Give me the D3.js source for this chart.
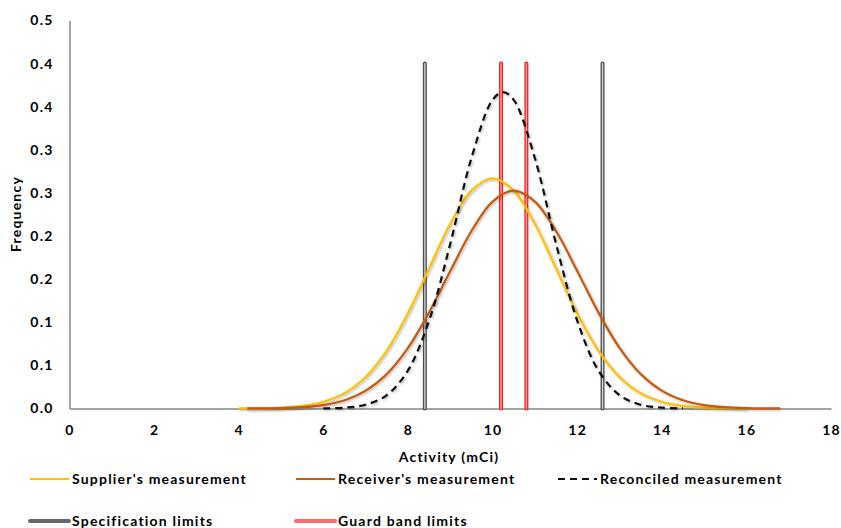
<!DOCTYPE html>
<html>
<head>
<meta charset="utf-8">
<script src="https://cdn.jsdelivr.net/npm/d3@7"></script>
<style>
  body { margin: 0; background: #fff; }
  text { font-family: Lato, "Open Sans", sans-serif; font-weight: bold; fill: #000; letter-spacing: 1.2px; }
</style>
</head>
<body>
<svg id="chart" width="841" height="528"></svg>
<script>
// valeurs
const supplierX = [4, 4.5, 5, 5.5, 6, 6.5, 7, 7.5, 8, 8.5, 9, 9.5, 10, 10.5, 11, 11.5, 12, 12.5, 13, 13.5, 14, 14.5, 15, 15.5, 16];
const supplierY = [0.0001, 0.0003, 0.0011, 0.0030, 0.0079, 0.0178, 0.0366, 0.0672, 0.1105, 0.1626, 0.2142, 0.2527, 0.267,
  0.2527, 0.2142, 0.1626, 0.1105, 0.0672, 0.0366, 0.0178, 0.0079, 0.0030, 0.0011, 0.0003, 0.0001];

const receiverX = [4.2, 4.5, 5, 5.5, 6, 6.5, 7, 7.5, 8, 8.5, 9, 9.5, 10, 10.5, 11, 11.5, 12, 12.5, 13, 13.5, 14, 14.5, 15, 15.5, 16, 16.5, 16.8];
const receiverY = [0.0001, 0.0002, 0.0005, 0.0015, 0.0040, 0.0096, 0.0207, 0.0401, 0.0704, 0.1115, 0.1595, 0.2059, 0.2400,
  0.2526, 0.2400, 0.2059, 0.1595, 0.1115, 0.0704, 0.0401, 0.0207, 0.0096, 0.0040, 0.0015, 0.0005, 0.0002, 0.0001];

const reconciledX = [6, 6.5, 7, 7.5, 8, 8.5, 9, 9.5, 10, 10.25, 10.5, 11, 11.5, 12, 12.5, 13, 13.5, 14, 14.5];
const reconciledY = [0.0002, 0.0010, 0.0044, 0.0155, 0.0442, 0.1020, 0.1911, 0.2904, 0.358, 0.367,
  0.358, 0.2904, 0.1911, 0.1020, 0.0442, 0.0155, 0.0044, 0.0010, 0.0002];

const specLimits = [8.4, 12.6];
const guardLimits = [10.2, 10.8];
const limitHeight = 0.4;

const xTicks = [0, 2, 4, 6, 8, 10, 12, 14, 16, 18];
const yTicks = [0, 0.05, 0.1, 0.15, 0.2, 0.25, 0.3, 0.35, 0.4, 0.45];
const yTickLabels = ["0.0", "0.1", "0.1", "0.2", "0.2", "0.3", "0.3", "0.4", "0.4", "0.5"];

const svg = d3.select("#chart");

const x = d3.scaleLinear().domain([0, 18]).range([69.5, 831]);
const y = d3.scaleLinear().domain([0, 0.45]).range([408.5, 20.5]);

// ombre legere des courbes
const defs = svg.append("defs");
const f = defs.append("filter").attr("id", "shadow")
  .attr("x", "-10%").attr("y", "-10%").attr("width", "120%").attr("height", "120%");
f.append("feDropShadow")
  .attr("dx", 1.2).attr("dy", 1.2).attr("stdDeviation", 1)
  .attr("flood-color", "#000").attr("flood-opacity", 0.3);

// axes
const xAxis = svg.append("g")
  .attr("transform", `translate(0, ${y(0)})`)
  .call(d3.axisBottom(x).tickValues(xTicks).tickSize(0).tickPadding(17));
xAxis.select(".domain").attr("stroke", "#868686").attr("stroke-width", 1.5);
xAxis.selectAll("text").attr("font-size", 14).style("font-family", "Lato, sans-serif").style("font-weight", "bold");

const yAxis = svg.append("g")
  .attr("transform", `translate(${x(0)}, 0)`)
  .call(d3.axisLeft(y).tickValues(yTicks).tickSize(0).tickPadding(16)
    .tickFormat((d, i) => yTickLabels[i]));
yAxis.select(".domain").attr("stroke", "#868686").attr("stroke-width", 1.5);
yAxis.selectAll("text").attr("font-size", 14).style("font-family", "Lato, sans-serif").style("font-weight", "bold");

// titres des axes
svg.append("text")
  .attr("x", 449).attr("y", 462)
  .attr("text-anchor", "middle").attr("font-size", 14)
  .text("Activity (mCi)");

svg.append("text")
  .attr("transform", "translate(21, 214) rotate(-90)")
  .attr("text-anchor", "middle").attr("font-size", 14)
  .text("Frequency");

// limites verticales (trait double)
function drawLimits(values, outer, inner) {
  const g = svg.append("g");
  values.forEach(v => {
    g.append("line")
      .attr("x1", x(v)).attr("x2", x(v))
      .attr("y1", y(0)).attr("y2", y(limitHeight))
      .attr("stroke", outer).attr("stroke-width", 4).attr("stroke-linecap", "round");
    g.append("line")
      .attr("x1", x(v)).attr("x2", x(v))
      .attr("y1", y(0)).attr("y2", y(limitHeight))
      .attr("stroke", inner).attr("stroke-width", 1.3).attr("stroke-linecap", "round");
  });
}
drawLimits(specLimits, "#4d4d4d", "#d8d8d8");
drawLimits(guardLimits, "#ff1a1a", "#ffb0b0");

// courbes
const line = d3.line()
  .x(d => x(d[0]))
  .y(d => y(d[1]))
  .curve(d3.curveCatmullRom.alpha(0.5));

function drawCurve(xs, ys, color, dash) {
  svg.append("path")
    .datum(xs.map((v, i) => [v, ys[i]]))
    .attr("d", line)
    .attr("fill", "none")
    .attr("stroke", color)
    .attr("stroke-width", 2.2)
    .attr("stroke-dasharray", dash)
    .attr("filter", "url(#shadow)");
}
drawCurve(supplierX, supplierY, "#ffc000", null);
drawCurve(receiverX, receiverY, "#c55a11", null);
drawCurve(reconciledX, reconciledY, "#111", "7,5");

// legende
const legend = [
  { label: "Supplier's measurement", x: 30, y: 479, color: "#ffc000", w: 2, dash: null },
  { label: "Receiver's measurement", x: 296, y: 479, color: "#c55a11", w: 2, dash: null },
  { label: "Reconciled measurement", x: 558, y: 479, color: "#111", w: 2, dash: "7,5" },
  { label: "Specification limits", x: 30, y: 521, color: "#666", w: 4, dash: null },
  { label: "Guard band limits", x: 296, y: 521, color: "#ff6a6a", w: 4, dash: null }
];

const lg = svg.append("g").selectAll("g").data(legend).join("g");
lg.append("line")
  .attr("x1", d => d.x).attr("x2", d => d.x + 39)
  .attr("y1", d => d.y).attr("y2", d => d.y)
  .attr("stroke", d => d.color).attr("stroke-width", d => d.w)
  .attr("stroke-linecap", d => d.w > 3 ? "round" : "butt")
  .attr("stroke-dasharray", d => d.dash);
lg.append("text")
  .attr("x", d => d.x + 42).attr("y", d => d.y)
  .attr("dy", "0.35em").attr("font-size", 14)
  .text(d => d.label);
</script>
</body>
</html>
